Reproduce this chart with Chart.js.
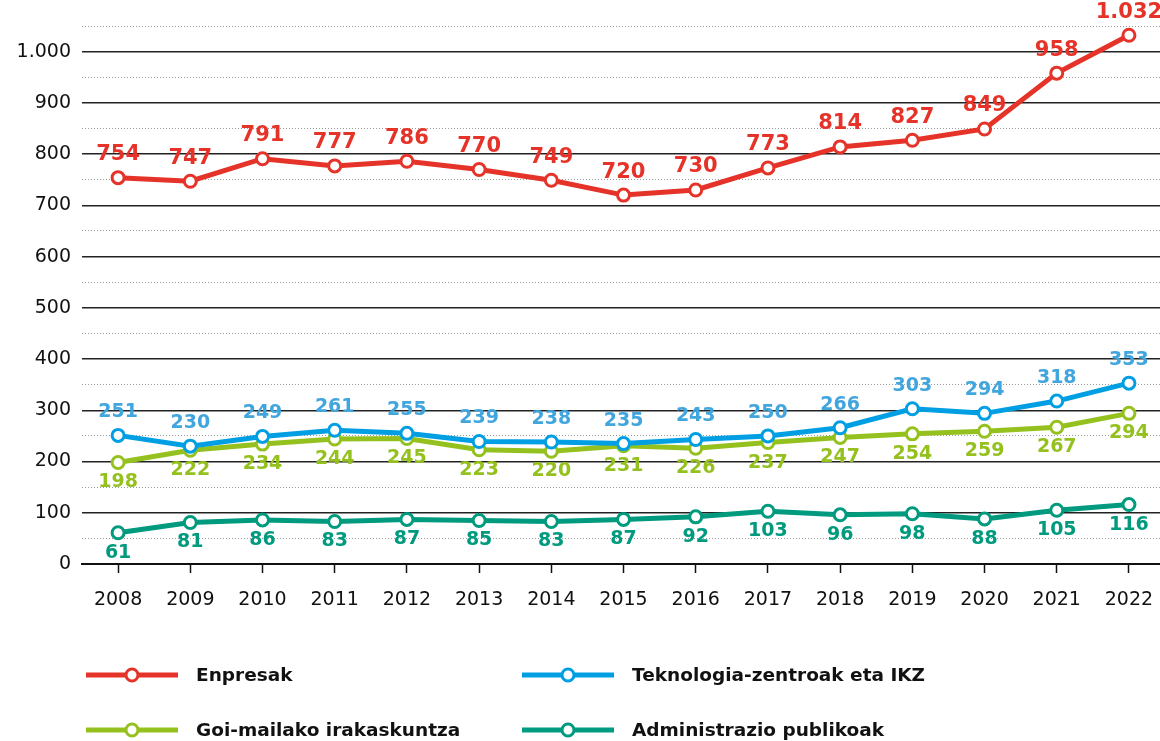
<!DOCTYPE html>
<html>
<head>
<meta charset="utf-8">
<script src="https://cdn.jsdelivr.net/npm/chart.js@4/dist/chart.umd.min.js"></script>
<style>
html,body{margin:0;padding:0;background:#fff;}
#wrap{width:1160px;height:741px;position:relative;}
</style>
</head>
<body>
<div id="wrap"><canvas id="c" width="1160" height="741"></canvas></div>
<script>
const years = [2008,2009,2010,2011,2012,2013,2014,2015,2016,2017,2018,2019,2020,2021,2022];
const enpresak = [754,747,791,777,786,770,749,720,730,773,814,827,849,958,1032];
const teknologia = [251,230,249,261,255,239,238,235,243,250,266,303,294,318,353];
const goiMailako = [198,222,234,244,245,223,220,231,226,237,247,254,259,267,294];
const administrazioa = [61,81,86,83,87,85,83,87,92,103,96,98,88,105,116];
const seriesNames = ['Enpresak','Teknologia-zentroak eta IKZ','Goi-mailako irakaskuntza','Administrazio publikoak'];

const FONT = "'DejaVu Sans', 'Open Sans', sans-serif";
const fmt = v => v.toLocaleString('de-DE');
const pts = arr => years.map((y,i)=>({x:y, y:arr[i]}));

function ds(label, data, color, labelColor, pos, fontSize, order){
  return {label, data: pts(data), borderColor: color, backgroundColor:'#fff',
    borderWidth:5, pointRadius:6, pointHoverRadius:6, pointBorderWidth:3,
    pointBackgroundColor:'#fff', pointBorderColor: color, tension:0,
    labelColor, labelPos: pos, labelSize: fontSize, order};
}

const labelPlugin = {
  id:'vlabels',
  afterDatasetsDraw(chart){
    const ctx = chart.ctx;
    chart.data.datasets.forEach((d, di)=>{
      const meta = chart.getDatasetMeta(di);
      ctx.save();
      ctx.font = `bold ${d.labelSize}px ${FONT}`;
      ctx.fillStyle = d.labelColor;
      ctx.textAlign = 'center';
      ctx.textBaseline = 'middle';
      meta.data.forEach((p, i)=>{
        const off = d.labelPos === 'above' ? -23 : 20;
        ctx.fillText(fmt(d.data[i].y), p.x, p.y + off);
      });
      ctx.restore();
    });
  }
};

const legendPlugin = {
  id:'customLegend',
  afterDraw(chart){
    const ctx = chart.ctx;
    const slots = [
      {di:0, x:86, y:675},
      {di:1, x:522, y:675},
      {di:2, x:86, y:730},
      {di:3, x:522, y:730}
    ];
    slots.forEach(s=>{
      const d = chart.data.datasets[s.di];
      ctx.save();
      ctx.strokeStyle = d.borderColor;
      ctx.lineWidth = 5;
      ctx.beginPath(); ctx.moveTo(s.x, s.y); ctx.lineTo(s.x+92, s.y); ctx.stroke();
      ctx.beginPath(); ctx.arc(s.x+46, s.y, 6, 0, Math.PI*2);
      ctx.fillStyle = '#fff'; ctx.fill();
      ctx.lineWidth = 3; ctx.stroke();
      ctx.fillStyle = '#111';
      ctx.font = `bold 18.5px ${FONT}`;
      ctx.textAlign = 'left'; ctx.textBaseline = 'middle';
      ctx.fillText(d.label, s.x+110, s.y+1);
      ctx.restore();
    });
  }
};

new Chart(document.getElementById('c'), {
  type:'line',
  data:{
    datasets:[
      ds(seriesNames[0], enpresak, '#e63329', '#e63329', 'above', 21, 1),
      ds(seriesNames[1], teknologia, '#009fe3', '#41a5de', 'above', 19, 2),
      ds(seriesNames[2], goiMailako, '#95c11f', '#95c11f', 'below', 19, 3),
      ds(seriesNames[3], administrazioa, '#009a7e', '#009a7e', 'below', 19, 4)
    ]
  },
  options:{
    responsive:false,
    animation:false,
    layout:{autoPadding:false, padding:{top:26,right:0,left:0,bottom:0}},
    plugins:{legend:{display:false}, tooltip:{enabled:false}},
    scales:{
      x:{
        type:'linear', min:2007.5, max:2022.43,
        afterBuildTicks(s){ s.ticks = years.map(v=>({value:v})); },
        afterFit(s){ s.height = 177; s.paddingLeft = 0; s.paddingRight = 0; },
        grid:{drawOnChartArea:false, drawTicks:true, tickLength:9, tickColor:'#111', tickWidth:1.5},
        border:{display:true, color:'#111', width:2},
        ticks:{color:'#111', padding:5, font:{family:FONT, size:19, lineHeight:2.3}, callback:v=>String(v), maxRotation:0, autoSkip:false}
      },
      y:{
        type:'linear', min:0, max:1050,
        afterBuildTicks(s){ const t=[]; for(let v=0; v<=1050; v+=50) t.push({value:v}); s.ticks=t; },
        afterFit(s){ s.width = 82; s.paddingTop = 0; s.paddingBottom = 0; },
        grid:{
          drawTicks:false,
          color:c => (c.tick.value % 100 === 0) ? '#222' : 'rgba(0,0,0,0)',
          lineWidth:1.5
        },
        border:{display:false},
        ticks:{color:'#111', padding:11, font:{family:FONT, size:19},
          callback:v => (v % 100 === 0) ? fmt(v) : ''}
      },
      y2:{
        type:'linear', min:0, max:1050, position:'left', display:true,
        afterBuildTicks(s){ const t=[]; for(let v=0; v<=1050; v+=50) t.push({value:v}); s.ticks=t; },
        afterFit(s){ s.width = 0; s.paddingTop = 0; s.paddingBottom = 0; },
        grid:{drawTicks:false, color:c => (c.tick.value % 100 === 50) ? '#999' : 'rgba(0,0,0,0)', lineWidth:1},
        border:{display:false, dash:[1,2]},
        ticks:{display:false}
      }
    }
  },
  plugins:[labelPlugin, legendPlugin]
});
</script>
</body>
</html>
